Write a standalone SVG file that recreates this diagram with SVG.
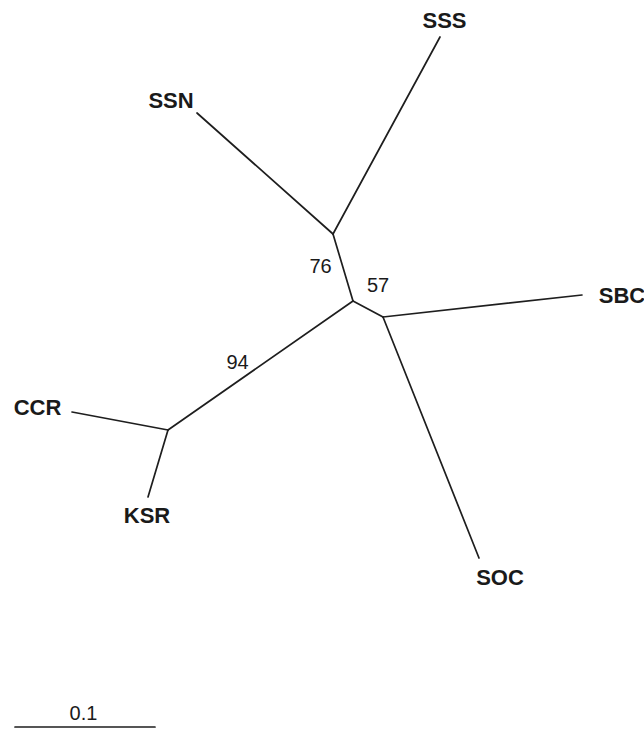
<svg xmlns="http://www.w3.org/2000/svg" width="644" height="729" viewBox="0 0 644 729">
<style>
.e{stroke:#1e1e1e;stroke-width:1.7;fill:none;stroke-linecap:round}
.lab{font-family:"Liberation Sans",Arial,sans-serif;font-weight:bold;font-size:22px;fill:#1a1a1a;text-anchor:middle}
.num{font-family:"Liberation Sans",Arial,sans-serif;font-size:20px;fill:#1a1a1a;text-anchor:middle}
</style>
<rect width="644" height="729" fill="#ffffff"/>
<g id="connectors">
<line class="e" x1="440" y1="37" x2="333" y2="234"/>
<line class="e" x1="197" y1="113" x2="333" y2="234"/>
<line class="e" x1="333" y1="234" x2="353" y2="301"/>
<line class="e" x1="353" y1="301" x2="383" y2="317"/>
<line class="e" x1="383" y1="317" x2="582" y2="295"/>
<line class="e" x1="383" y1="317" x2="479" y2="558"/>
<line class="e" x1="353" y1="301" x2="168" y2="430"/>
<line class="e" x1="168" y1="430" x2="72" y2="412"/>
<line class="e" x1="168" y1="430" x2="148" y2="497"/>
</g>
<g id="SSS"><text class="lab" x="444.5" y="28">SSS</text></g>
<g id="SSN"><text class="lab" x="171" y="108">SSN</text></g>
<g id="SBC"><text class="lab" x="622" y="303">SBC</text></g>
<g id="SOC"><text class="lab" x="500" y="585">SOC</text></g>
<g id="CCR"><text class="lab" x="37.5" y="415">CCR</text></g>
<g id="KSR"><text class="lab" x="147" y="523">KSR</text></g>
<g id="bootstrap">
<text class="num" x="320.5" y="273">76</text>
<text class="num" x="378" y="292">57</text>
<text class="num" x="237.5" y="369">94</text>
</g>
<g id="scale">
<line class="e" x1="15" y1="727" x2="155" y2="727"/>
<text class="num" x="83.5" y="720">0.1</text>
</g>
</svg>
